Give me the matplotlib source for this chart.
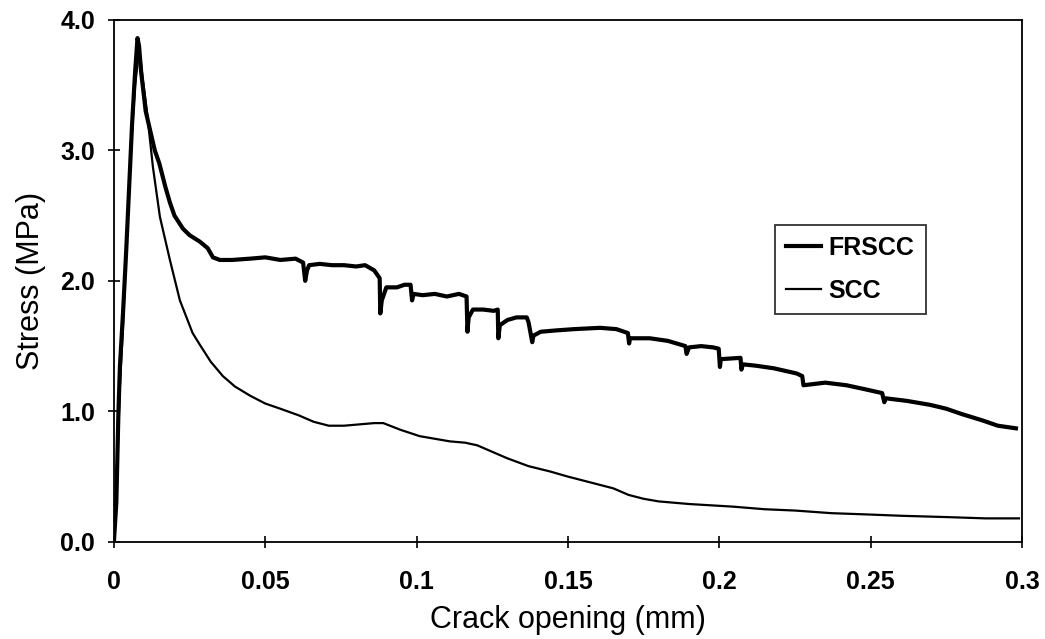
import matplotlib
matplotlib.use("Agg")
import matplotlib.pyplot as plt

plt.rcParams['font.family'] = ['Liberation Sans', 'DejaVu Sans']

# FRSCC curve
frscc_x = [0, 0.0008, 0.0012, 0.0015, 0.002, 0.003, 0.004, 0.005, 0.006, 0.007, 0.0078,
           0.0083, 0.009, 0.0105, 0.012, 0.0135, 0.015, 0.017, 0.0185, 0.020, 0.0228,
           0.025, 0.0284, 0.031, 0.0327, 0.035, 0.039, 0.045, 0.050, 0.055, 0.060,
           0.0625, 0.0632, 0.0638, 0.0645, 0.068, 0.072, 0.076, 0.080, 0.083, 0.086,
           0.0878, 0.0880, 0.0885, 0.090, 0.0935, 0.096, 0.098, 0.0985, 0.099, 0.102,
           0.106, 0.110, 0.114, 0.1165, 0.1168, 0.1172, 0.1186, 0.122, 0.1255, 0.1268,
           0.1270, 0.1275, 0.130, 0.133, 0.1364, 0.137, 0.1382, 0.1386, 0.141, 0.146,
           0.152, 0.1606, 0.166, 0.1698, 0.1702, 0.1705, 0.177, 0.183, 0.1888, 0.1892,
           0.190, 0.194, 0.198, 0.1998, 0.2002, 0.2005, 0.207, 0.2073, 0.2078, 0.212,
           0.218, 0.2256, 0.2274, 0.2278, 0.235, 0.242, 0.248, 0.2538, 0.2545, 0.255,
           0.262, 0.2696, 0.275, 0.280, 0.287, 0.292, 0.298]
frscc_y = [0, 0.3, 0.7, 1.0, 1.35, 1.75, 2.2, 2.7, 3.2, 3.6, 3.86,
           3.8, 3.6, 3.3, 3.15, 3.0, 2.9, 2.72, 2.6, 2.5, 2.4,
           2.35, 2.3, 2.25, 2.18, 2.16, 2.16, 2.17, 2.18, 2.16, 2.17,
           2.14, 2.0, 2.08, 2.12, 2.13, 2.12, 2.12, 2.11, 2.12, 2.08,
           2.02, 1.75, 1.85, 1.95, 1.95, 1.97, 1.97, 1.85, 1.90, 1.89,
           1.90, 1.88, 1.90, 1.88, 1.61, 1.72, 1.78, 1.78, 1.77, 1.78,
           1.56, 1.66, 1.70, 1.72, 1.72, 1.68, 1.53, 1.58, 1.61, 1.62,
           1.63, 1.64, 1.63, 1.60, 1.52, 1.56, 1.56, 1.54, 1.50, 1.44,
           1.49, 1.50, 1.49, 1.48, 1.34, 1.40, 1.41, 1.32, 1.36, 1.35,
           1.33, 1.29, 1.27, 1.20, 1.22, 1.20, 1.17, 1.14, 1.07, 1.10,
           1.08, 1.05, 1.02, 0.98, 0.93, 0.89, 0.87]

# SCC curve
scc_x = [0, 0.001, 0.002, 0.003, 0.004, 0.005, 0.006, 0.007, 0.008, 0.0088, 0.0095,
         0.0109, 0.0129, 0.0152, 0.0185, 0.0218, 0.026, 0.0284, 0.032, 0.036, 0.040,
         0.045, 0.050, 0.055, 0.061, 0.066, 0.071, 0.076, 0.081, 0.086, 0.089,
         0.0945, 0.101, 0.106, 0.111, 0.116, 0.120, 0.124, 0.130, 0.137, 0.144,
         0.150, 0.155, 0.160, 0.165, 0.170, 0.175, 0.180, 0.190, 0.2045, 0.215,
         0.225, 0.237, 0.249, 0.260, 0.275, 0.288, 0.299]
scc_y = [0, 0.5, 1.2, 1.65, 2.2, 2.7, 3.15, 3.5, 3.7, 3.7, 3.55,
         3.3, 2.87, 2.49, 2.16, 1.85, 1.6, 1.51, 1.38, 1.27, 1.19,
         1.12, 1.06, 1.02, 0.97, 0.92, 0.89, 0.89, 0.90, 0.91, 0.91,
         0.86, 0.81, 0.79, 0.77, 0.76, 0.74, 0.70, 0.64, 0.58, 0.54,
         0.50, 0.47, 0.44, 0.41, 0.36, 0.33, 0.31, 0.29, 0.27, 0.25,
         0.24, 0.22, 0.21, 0.20, 0.19, 0.18, 0.18]

x_ticks = [0, 0.05, 0.1, 0.15, 0.2, 0.25, 0.3]
x_tick_labels = ['0', '0.05', '0.1', '0.15', '0.2', '0.25', '0.3']
y_ticks = [0.0, 1.0, 2.0, 3.0, 4.0]

fig = plt.figure(figsize=(10.45, 6.39), dpi=100)
ax = fig.add_axes([0.109, 0.152, 0.869, 0.817])

ax.plot(frscc_x, frscc_y, color='black', lw=3.0, label='FRSCC')
ax.plot(scc_x, scc_y, color='black', lw=1.6, label='SCC')

ax.set_xlim(0, 0.3)
ax.set_ylim(0, 4.0)
ax.set_xticks(x_ticks)
ax.set_xticklabels(x_tick_labels)
ax.set_yticks(y_ticks)
ax.set_yticklabels([f'{v:.1f}' for v in y_ticks])
ax.tick_params(direction='inout', length=9, width=1.2)
ax.tick_params(axis='x', pad=16)
ax.tick_params(axis='y', pad=9)
for lab in ax.get_xticklabels() + ax.get_yticklabels():
    lab.set_fontsize(18)
    lab.set_fontweight('bold')
for sp in ax.spines.values():
    sp.set_linewidth(1.3)

ax.set_xlabel('Crack opening (mm)', fontsize=22, labelpad=8)
ax.set_ylabel('Stress (MPa)', fontsize=22, labelpad=10)

leg = ax.legend(loc='upper left', bbox_to_anchor=(0.728, 0.607), frameon=True, fancybox=False,
                edgecolor='black', handlelength=1.4, handletextpad=0.3, borderpad=0.45,
                labelspacing=0.75, borderaxespad=0,
                prop={'size': 18, 'weight': 'bold'})
leg.get_frame().set_linewidth(1.3)

fig.savefig('out.png', dpi=100)
